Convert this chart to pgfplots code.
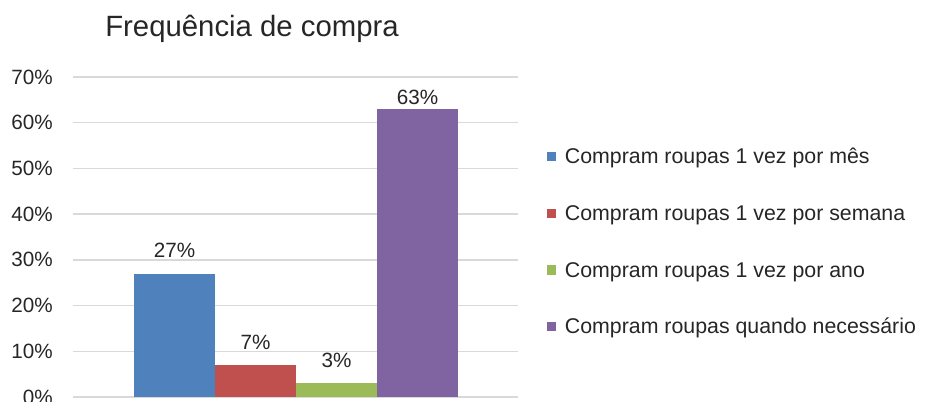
\documentclass[border=0pt]{standalone}
\usepackage{pgfplots}
\pgfplotsset{compat=1.18}
\usepackage{fontspec}
\setmainfont{Liberation Sans}
\definecolor{cblue}{HTML}{4F81BD}
\definecolor{cred}{HTML}{C0504D}
\definecolor{cgreen}{HTML}{9BBB59}
\definecolor{cpurple}{HTML}{8064A2}
\definecolor{cgrid}{HTML}{D9D9D9}
\definecolor{ctext}{HTML}{262626}
\begin{document}
\begin{tikzpicture}
\useasboundingbox (0,0) rectangle (696pt,300.75pt);
\node[anchor=base west, inner sep=0pt, text=ctext, font=\fontsize{22}{26}\selectfont] at (78.75pt,273pt) {Frequência de compra};
\begin{axis}[
  at={(54.75pt,3pt)}, anchor=south west,
  scale only axis, width=333.75pt, height=240pt,
  /pgf/number format/assume math mode=true,
  ybar, bar width=1,
  xmin=-0.253, xmax=5.241,
  ymin=0, ymax=70,
  ytick={0,10,...,70},
  xtick=\empty,
  yticklabel={\pgfmathprintnumber{\tick}\%},
  yticklabel style={anchor=east, inner sep=0pt, xshift=-15pt, text=ctext, font=\fontsize{15.5}{18}\selectfont},
  major tick length=0pt,
  axis line style={draw=none},
  ymajorgrids, grid style={cgrid, line width=1.1pt},
  nodes near coords={\pgfmathprintnumber{\pgfplotspointmeta}\%},
  every node near coord/.append style={anchor=base, inner sep=0pt, text=ctext, font=\fontsize{15.5}{18}\selectfont},
  legend style={draw=none, fill=none, inner sep=0pt, at={(1.0644,0.481)}, anchor=west,
    nodes={inner sep=0pt, text height=12pt, text depth=3.5pt, text=ctext, font=\fontsize{16}{19}\selectfont},
    row sep=27pt},
  legend cell align=left,
]
\addplot[fill=cblue, draw=none, bar shift=0pt, every node near coord/.append style={yshift=12pt},
  legend image code/.code={\fill[cblue] (0pt,-2.5pt) rectangle (7pt,4.5pt); \path (13.5pt,0pt);}] coordinates {(1,27)};
\addplot[fill=cred, draw=none, bar shift=0pt, every node near coord/.append style={yshift=11.5pt},
  legend image code/.code={\fill[cred] (0pt,-2.5pt) rectangle (7pt,4.5pt); \path (13.5pt,0pt);}] coordinates {(2,7)};
\addplot[fill=cgreen, draw=none, bar shift=0pt, every node near coord/.append style={yshift=12pt},
  legend image code/.code={\fill[cgreen] (0pt,-2.5pt) rectangle (7pt,4.5pt); \path (13.5pt,0pt);}] coordinates {(3,3)};
\addplot[fill=cpurple, draw=none, bar shift=0pt, every node near coord/.append style={yshift=3.75pt},
  legend image code/.code={\fill[cpurple] (0pt,-2.5pt) rectangle (7pt,4.5pt); \path (13.5pt,0pt);}] coordinates {(4,63)};
\legend{Compram roupas 1 vez por mês, Compram roupas 1 vez por semana, Compram roupas 1 vez por ano, Compram roupas quando necessário}
\end{axis}
\end{tikzpicture}
\end{document}
